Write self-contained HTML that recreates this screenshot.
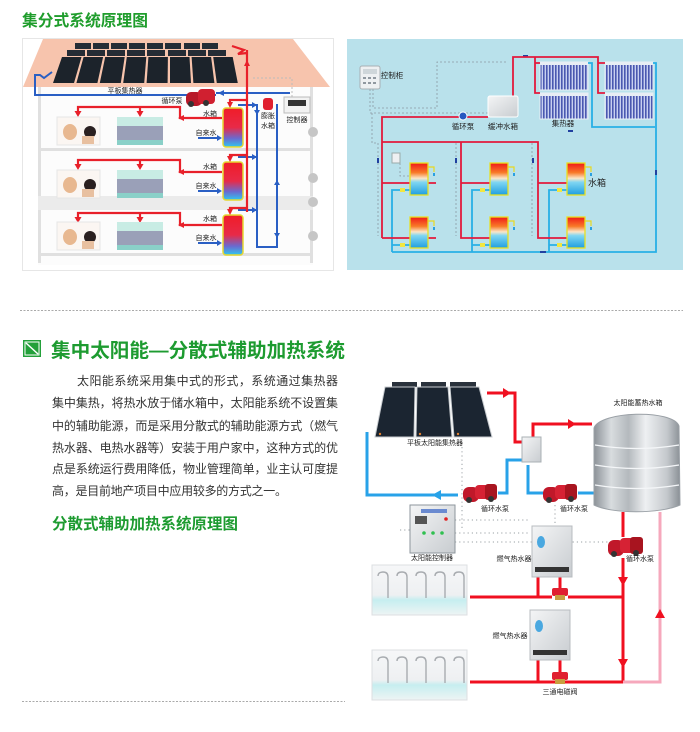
<!DOCTYPE html>
<html><head><meta charset="utf-8">
<style>
html,body{margin:0;padding:0;background:#fff;}
svg{display:block;}
text{font-family:"Liberation Sans","Noto Sans CJK SC",sans-serif;}
</style></head><body>
<svg width="700" height="732" viewBox="0 0 700 732" xmlns="http://www.w3.org/2000/svg">
<defs>
 <linearGradient id="tk1" x1="0" y1="0" x2="0" y2="1">
  <stop offset="0" stop-color="#f01c28"/>
  <stop offset="0.5" stop-color="#e82a48"/>
  <stop offset="0.78" stop-color="#6a6ad0"/>
  <stop offset="1" stop-color="#30c8f0"/>
 </linearGradient>
 <linearGradient id="tk2" x1="0" y1="0" x2="0" y2="1">
  <stop offset="0" stop-color="#f01818"/>
  <stop offset="0.3" stop-color="#f87a28"/>
  <stop offset="0.48" stop-color="#fbe6c8"/>
  <stop offset="0.6" stop-color="#7fd6f2"/>
  <stop offset="1" stop-color="#1e9ee0"/>
 </linearGradient>
 <linearGradient id="steel" x1="0" y1="0" x2="1" y2="0">
  <stop offset="0" stop-color="#8c9298"/>
  <stop offset="0.2" stop-color="#d8dcdf"/>
  <stop offset="0.4" stop-color="#b4b9bd"/>
  <stop offset="0.6" stop-color="#eef0f2"/>
  <stop offset="0.85" stop-color="#c4c8cc"/>
  <stop offset="1" stop-color="#8a9096"/>
 </linearGradient>
 <linearGradient id="box" x1="0" y1="0" x2="1" y2="1">
  <stop offset="0" stop-color="#f4f5f6"/>
  <stop offset="1" stop-color="#c8ccd0"/>
 </linearGradient>
 <linearGradient id="shw" x1="0" y1="0" x2="0" y2="1">
  <stop offset="0" stop-color="#f6f7f8"/>
  <stop offset="0.6" stop-color="#eef0f2"/>
  <stop offset="0.7" stop-color="#c6eef0"/>
  <stop offset="1" stop-color="#eef4f4"/>
 </linearGradient>
 <linearGradient id="coll" x1="0" y1="0" x2="1" y2="0">
  <stop offset="0" stop-color="#5a6ab8"/>
  <stop offset="0.5" stop-color="#8a94d8"/>
  <stop offset="1" stop-color="#4a5aa8"/>
 </linearGradient>
 <pattern id="tubes" width="3" height="10" patternUnits="userSpaceOnUse">
  <rect width="3" height="10" fill="#c8d0f0"/>
  <rect width="1.6" height="10" fill="#4a58b0"/>
 </pattern>
</defs>

<!-- ============ TITLE 1 ============ -->
<text x="22" y="26" font-size="16" font-weight="bold" fill="#1f9d2c" textLength="126" lengthAdjust="spacingAndGlyphs">集分式系统原理图</text>

<!-- ============ TOP-LEFT DIAGRAM ============ -->
<rect x="22.5" y="38.5" width="311" height="232" fill="#fff" stroke="#e6e6e6"/>
<rect x="38" y="87" width="275" height="178" fill="#fcfcfc"/>
<rect x="38" y="87" width="3" height="176" fill="#e0e0e0"/>
<rect x="310" y="87" width="3" height="176" fill="#e0e0e0"/>
<rect x="38" y="148" width="275" height="3" fill="#e0e0e0"/>
<rect x="38" y="196" width="275" height="14" fill="#ebebeb"/>
<rect x="38" y="253" width="275" height="3" fill="#e0e0e0"/>
<!-- roof -->
<polygon points="43,39 293,39 330,87 23,87" fill="#f7c4ad"/>
<!-- panels back rows -->
<g fill="#252c35">
 <rect x="75" y="43" width="16" height="6"/><rect x="93" y="43" width="16" height="6"/><rect x="111" y="43" width="16" height="6"/><rect x="129" y="43" width="16" height="6"/>
 <rect x="147" y="43" width="16" height="6"/><rect x="165" y="43" width="16" height="6"/><rect x="184" y="43" width="16" height="6"/><rect x="202" y="43" width="16" height="6"/>
 <rect x="67" y="50" width="18" height="6"/><rect x="87" y="50" width="18" height="6"/><rect x="107" y="50" width="18" height="6"/><rect x="127" y="50" width="18" height="6"/>
 <rect x="147" y="50" width="18" height="6"/><rect x="168" y="50" width="18" height="6"/><rect x="188" y="50" width="18" height="6"/><rect x="208" y="50" width="18" height="6"/>
</g>
<g fill="#1c232b">
 <polygon points="62,57 81.5,57 74,83 53,83"/>
 <polygon points="83.6,57 103.1,57 97.4,83 76.4,83"/>
 <polygon points="105.2,57 124.7,57 120.8,83 99.8,83"/>
 <polygon points="126.8,57 146.3,57 144.2,83 123.2,83"/>
 <polygon points="148.4,57 167.9,57 167.6,83 146.6,83"/>
 <polygon points="170,57 189.5,57 191,83 170,83"/>
 <polygon points="191.6,57 211.1,57 214.4,83 193.4,83"/>
 <polygon points="213.2,57 232.7,57 237.8,83 216.8,83"/>
</g>
<!-- dashed control line -->
<path d="M292,97 V78 H252" fill="none" stroke="#bbb" stroke-width="1" stroke-dasharray="2,2"/>
<!-- blue pipes -->
<g fill="none" stroke="#2a5fc4" stroke-width="2">
 <path d="M52,72 L44,78 L40,75 L35,75 V95 H216"/>
 <path d="M216,93 H290"/>
 <path d="M277,104 V247 H257 V104"/>
 <path d="M238,105 H257 M238,157 H257 M238,210 H257"/>
 <path d="M238,108 V145 M238,162 V198 M238,215 V252"/>
 <path d="M198,138 H220 M198,191 H220 M198,243 H220"/>
</g>
<g fill="#2a5fc4">
 <polygon points="218,93 224,90 224,96"/>
 <polygon points="257,115 254,110 260,110"/>
 <polygon points="277,180 274,185 280,185"/>
 <polygon points="277,238 274,233 280,233"/>
 <polygon points="257,105 252,102 252,108"/>
 <polygon points="257,157 252,154 252,160"/>
 <polygon points="257,210 252,207 252,213"/>
 <polygon points="222,138 217,135 217,141"/>
 <polygon points="222,191 217,188 217,194"/>
 <polygon points="222,243 217,240 217,246"/>
</g>
<!-- tanks -->
<g stroke="#e6d830" stroke-width="1.5">
 <rect x="223" y="108" width="20" height="39" rx="3" fill="url(#tk1)"/>
 <rect x="223" y="162" width="20" height="38" rx="3" fill="url(#tk1)"/>
 <rect x="223" y="215" width="20" height="40" rx="3" fill="url(#tk1)"/>
</g>
<!-- red pipes -->
<g fill="none" stroke="#e8202a" stroke-width="2.2">
 <path d="M232,46 L244,50 L238,54 L247,53 M247,50 V212"/>
 <path d="M247,100 H230 V106 M247,155 H230 V160 M247,208 H230 V213"/>
 <path d="M222,118 H180 V107 H78 V113 M140,107 V113"/>
 <path d="M222,172 H180 V160 H78 V166 M140,160 V166"/>
 <path d="M222,225 H180 V213 H78 V219 M140,213 V219"/>
</g>
<g fill="#e8202a">
 <polygon points="78,117 74.5,111 81.5,111"/><polygon points="140,117 136.5,111 143.5,111"/>
 <polygon points="78,170 74.5,164 81.5,164"/><polygon points="140,170 136.5,164 143.5,164"/>
 <polygon points="78,223 74.5,217 81.5,217"/><polygon points="140,223 136.5,217 143.5,217"/>
 <polygon points="230,108 227,102 233,102"/><polygon points="230,162 227,156 233,156"/><polygon points="230,215 227,209 233,209"/>
 <polygon points="178,118 184,115 184,121"/><polygon points="178,172 184,169 184,175"/><polygon points="178,225 184,222 184,228"/>
 <polygon points="247,60 244,66 250,66"/>
</g>
<!-- bath / sink images -->
<g>
 <rect x="57" y="117" width="43" height="28" fill="#fbf6f2" stroke="#e6e6e6"/>
 <ellipse cx="70" cy="132" rx="7" ry="8" fill="#e8b890"/><circle cx="90" cy="132" r="6" fill="#2a2020"/><rect x="82" y="136" width="12" height="8" fill="#e8c0a0"/>
 <rect x="117" y="117" width="46" height="28" fill="#9aa0b8"/><rect x="117" y="117" width="46" height="9" fill="#c8ece4"/><rect x="117" y="140" width="46" height="5" fill="#8ad0c8"/>
 <rect x="57" y="170" width="43" height="28" fill="#fbf6f2" stroke="#e6e6e6"/>
 <ellipse cx="70" cy="185" rx="7" ry="8" fill="#e8b890"/><circle cx="90" cy="185" r="6" fill="#2a2020"/><rect x="82" y="189" width="12" height="8" fill="#e8c0a0"/>
 <rect x="117" y="170" width="46" height="28" fill="#9aa0b8"/><rect x="117" y="170" width="46" height="9" fill="#c8ece4"/><rect x="117" y="193" width="46" height="5" fill="#8ad0c8"/>
 <rect x="57" y="222" width="43" height="28" fill="#fbf6f2" stroke="#e6e6e6"/>
 <ellipse cx="70" cy="237" rx="7" ry="8" fill="#e8b890"/><circle cx="90" cy="237" r="6" fill="#2a2020"/><rect x="82" y="241" width="12" height="8" fill="#e8c0a0"/>
 <rect x="117" y="222" width="46" height="28" fill="#9aa0b8"/><rect x="117" y="222" width="46" height="9" fill="#c8ece4"/><rect x="117" y="245" width="46" height="5" fill="#8ad0c8"/>
</g>
<!-- pump -->
<g>
 <rect x="186" y="92" width="16" height="14" rx="5" fill="#b81828"/>
 <rect x="198" y="89" width="17" height="15" rx="4" fill="#d02030"/>
 <circle cx="191" cy="104" r="3" fill="#333"/><circle cx="206" cy="103" r="3" fill="#333"/>
</g>
<!-- expansion tank & controller -->
<rect x="263" y="98" width="10" height="12" rx="3" fill="#e02030"/>
<rect x="284" y="97" width="26" height="16" fill="#f2f2f2" stroke="#bbb"/>
<rect x="288" y="100" width="18" height="6" fill="#333"/>
<!-- gray circles -->
<g fill="#c6c6c6"><circle cx="313" cy="132" r="5"/><circle cx="313" cy="178" r="5"/><circle cx="313" cy="202" r="5"/><circle cx="313" cy="236" r="5"/></g>
<!-- labels -->
<g font-size="7" fill="#222" text-anchor="middle">
 <text x="125" y="93">平板集热器</text>
 <text x="172" y="103">循环泵</text>
 <text x="210" y="116">水箱</text><text x="210" y="169">水箱</text><text x="210" y="221">水箱</text>
 <text x="206" y="135">自来水</text><text x="206" y="188">自来水</text><text x="206" y="240">自来水</text>
 <text x="268" y="118">膨胀</text><text x="268" y="128">水箱</text>
 <text x="297" y="122">控制器</text>
</g>

<!-- ============ TOP-RIGHT DIAGRAM ============ -->
<rect x="347" y="39" width="336" height="231" fill="#b9e1eb"/>
<!-- dashed control lines -->
<g fill="none" stroke="#8a9aa2" stroke-width="0.8" stroke-dasharray="2,2">
 <path d="M373,89 V108 H437 V62 H508"/>
 <path d="M370,89 V113 H505"/>
 <path d="M372,113 V143 H378 V236"/>
 <path d="M456,143 V236 M532,143 V236"/>
 <path d="M400,163 V176 H410"/>
</g>
<!-- controller -->
<rect x="360" y="66" width="20" height="23" rx="2" fill="#eef0f2" stroke="#a8b0b4"/>
<rect x="363" y="69" width="14" height="5" fill="#cfd6da"/>
<g fill="#9098a0"><rect x="363" y="77" width="3" height="2"/><rect x="368" y="77" width="3" height="2"/><rect x="373" y="77" width="3" height="2"/><rect x="363" y="82" width="3" height="2"/><rect x="368" y="82" width="3" height="2"/><rect x="373" y="82" width="3" height="2"/></g>
<!-- collectors -->
<g>
 <rect x="540" y="62" width="48" height="28" fill="url(#tubes)" stroke="#e8eef4"/>
 <rect x="540" y="93" width="48" height="26" fill="url(#tubes)" stroke="#e8eef4"/>
 <rect x="605" y="62" width="48" height="28" fill="url(#tubes)" stroke="#e8eef4"/>
 <rect x="605" y="93" width="48" height="26" fill="url(#tubes)" stroke="#e8eef4"/>
 <rect x="540" y="62" width="48" height="3" fill="#e8eef4"/><rect x="540" y="93" width="48" height="3" fill="#e8eef4"/>
 <rect x="605" y="62" width="48" height="3" fill="#e8eef4"/><rect x="605" y="93" width="48" height="3" fill="#e8eef4"/>
</g>
<!-- blue pipes -->
<g fill="none" stroke="#28b0e6" stroke-width="1.8">
 <path d="M588,63 H592 V127 H655 M653,63 H656 V252 H392"/>
 <path d="M392,252 V190 H410 M392,245 H410"/>
 <path d="M472,252 V190 H490 M472,245 H490"/>
 <path d="M549,252 V190 H567 M549,245 H567"/>
</g>
<g fill="#2040a0"><rect x="540" y="251" width="6" height="2"/><rect x="568" y="130" width="5" height="2"/><rect x="655" y="170" width="2" height="5"/><rect x="377" y="158" width="2" height="5"/><rect x="455" y="158" width="2" height="5"/><rect x="532" y="158" width="2" height="5"/><rect x="523" y="55" width="5" height="2"/></g>
<!-- red pipes -->
<g fill="none" stroke="#e21a3c" stroke-width="1.8">
 <path d="M382,238 V117 H488"/>
 <path d="M513,96 V57 H598 V93 H605 M598,63 H605 M535,57 V93 H540 M535,63 H540"/>
 <path d="M382,142 H538 V238 H567 M461,142 V238 H490 M382,238 H410"/>
 <path d="M382,183 H410 M461,183 H490 M538,183 H567"/>
 <path d="M428,183 H436 M428,238 H436"/>
</g>
<!-- pump & buffer tank -->
<circle cx="463" cy="116" r="4" fill="#2858c0" stroke="#fff" stroke-width="1"/>
<rect x="488" y="96" width="30" height="21" rx="2" fill="url(#box)" stroke="#fff"/>
<!-- tanks -->
<g stroke="#e8e020" stroke-width="1.3" fill="url(#tk2)">
 <rect x="410" y="163" width="18" height="32"/><rect x="490" y="163" width="18" height="32"/><rect x="567" y="163" width="18" height="32"/>
 <rect x="410" y="217" width="18" height="31"/><rect x="490" y="217" width="18" height="31"/><rect x="567" y="217" width="18" height="31"/>
</g>
<g fill="none" stroke="#e8d820" stroke-width="1.2">
 <path d="M428,167 H434 V172 M508,167 H514 V172 M585,167 H591 V172 M428,221 H434 V226 M508,221 H514 V226 M585,221 H591 V226"/>
</g>
<g fill="#2aa0e0"><rect x="433" y="173" width="2" height="3"/><rect x="513" y="173" width="2" height="3"/><rect x="590" y="173" width="2" height="3"/><rect x="433" y="227" width="2" height="3"/><rect x="513" y="227" width="2" height="3"/><rect x="590" y="227" width="2" height="3"/></g>
<g fill="#f2e640"><rect x="400" y="188" width="5" height="4"/><rect x="480" y="188" width="5" height="4"/><rect x="557" y="188" width="5" height="4"/><rect x="400" y="243" width="5" height="4"/><rect x="480" y="243" width="5" height="4"/><rect x="557" y="243" width="5" height="4"/></g>
<rect x="392" y="153" width="8" height="10" fill="#eef0f2" stroke="#9aa"/>
<g font-size="7.5" fill="#222" text-anchor="middle">
 <text x="392" y="78">控制柜</text>
 <text x="463" y="129">循环泵</text>
 <text x="503" y="129">缓冲水箱</text>
 <text x="563" y="126">集热器</text>
 <text x="597" y="186" font-size="9">水箱</text>
</g>

<!-- ============ SEPARATOR ============ -->
<line x1="20" y1="310.5" x2="683" y2="310.5" stroke="#aaa" stroke-width="1" stroke-dasharray="2,1.5"/>

<!-- ============ SECTION 2 ============ -->
<rect x="23" y="340" width="18" height="17" fill="#23a03a"/>
<rect x="25" y="342" width="14" height="13" fill="none" stroke="#fff" stroke-width="1"/>
<line x1="26" y1="343" x2="38" y2="354" stroke="#fff" stroke-width="1.5"/>
<text x="51" y="357" font-size="19.5" font-weight="bold" fill="#1d9b30" textLength="294" lengthAdjust="spacingAndGlyphs">集中太阳能—分散式辅助加热系统</text>

<g font-size="12" fill="#333">
 <text x="77" y="385" textLength="261" lengthAdjust="spacing">太阳能系统采用集中式的形式，系统通过集热器</text>
 <text x="52" y="407" textLength="286" lengthAdjust="spacing">集中集热，将热水放于储水箱中，太阳能系统不设置集</text>
 <text x="52" y="430" textLength="286" lengthAdjust="spacing">中的辅助能源，而是采用分散式的辅助能源方式（燃气</text>
 <text x="52" y="452" textLength="286" lengthAdjust="spacing">热水器、电热水器等）安装于用户家中，这种方式的优</text>
 <text x="52" y="473" textLength="286" lengthAdjust="spacing">点是系统运行费用降低，物业管理简单，业主认可度提</text>
 <text x="52" y="495" textLength="235" lengthAdjust="spacing">高，是目前地产项目中应用较多的方式之一。</text>
</g>
<text x="52" y="529" font-size="15.5" font-weight="bold" fill="#1d9b30" textLength="186" lengthAdjust="spacingAndGlyphs">分散式辅助加热系统原理图</text>

<line x1="22" y1="701.5" x2="345" y2="701.5" stroke="#aaa" stroke-width="1" stroke-dasharray="2,1.5"/>

<!-- ============ BOTTOM-RIGHT DIAGRAM ============ -->
<!-- dotted control lines -->
<g fill="none" stroke="#9aa0a4" stroke-width="1" stroke-dasharray="1.2,3">
 <path d="M462,447 V528"/>
 <path d="M455,520 H530"/>
 <path d="M455,533 H528"/>
 <path d="M455,542 H608"/>
 <path d="M555,505 V530"/>
 <path d="M400,530 H410"/>
</g>
<!-- panels -->
<g fill="#2a323c"><rect x="392" y="382" width="25" height="5"/><rect x="421" y="382" width="25" height="5"/><rect x="450" y="382" width="26" height="5"/></g>
<g fill="#1b2531" stroke="#c8ccd0" stroke-width="1">
 <polygon points="385,387 415,387 414,437 375,437"/>
 <polygon points="417,387 448,387 452,437 416,437"/>
 <polygon points="450,387 479,387 492,437 454,437"/>
</g>
<g fill="#e08030"><circle cx="380" cy="434" r="1.2"/><circle cx="420" cy="434" r="1.2"/><circle cx="458" cy="434" r="1.2"/></g>
<!-- red top pipes -->
<g fill="none" stroke="#f01020" stroke-width="3">
 <path d="M487,393 H515 V442 H522"/>
 <path d="M533,437 V424 H592"/>
 <path d="M623,512 V537 M623,558 V682 H470 M623,597 H568 M552,597 H470"/>
 <path d="M538,577 V597 M560,577 V588 M538,660 V682 M560,660 V672"/>
</g>
<polygon points="511,393 503,388 503,398" fill="#f01020"/>
<polygon points="576,424 568,419 568,429" fill="#f01020"/>
<polygon points="623,586 618,577 628,577" fill="#f01020"/>
<polygon points="623,668 618,659 628,659" fill="#f01020"/>
<!-- pink return -->
<path d="M660,512 V682 H623" fill="none" stroke="#f6a8bc" stroke-width="3"/>
<polygon points="660,609 655,618 665,618" fill="#f01020"/>
<!-- blue -->
<g fill="none" stroke="#28a2e8" stroke-width="3">
 <path d="M367,432 V495 H458"/>
 <path d="M498,493 H507 V460 H523"/>
 <path d="M528,465 V493 H543"/>
 <path d="M578,493 H594"/>
</g>
<polygon points="432,495 441,490 441,500" fill="#28a2e8"/>
<!-- heat exchanger -->
<rect x="522" y="437" width="19" height="25" fill="url(#box)" stroke="#aab0b4"/>
<!-- tank -->
<path d="M594,428 C600,411 673,409 679,426 L680,505 C660,514 612,514 594,505 Z" fill="url(#steel)" stroke="#9aa0a6"/>
<g stroke="#f4f6f8" stroke-width="1.2" fill="none">
 <path d="M595,445 Q637,452 679,445"/><path d="M595,465 Q637,472 679,465"/><path d="M595,485 Q637,492 679,485"/>
</g>
<!-- pumps -->
<g transform="translate(463,483)">
 <rect x="0" y="4" width="16" height="15" rx="6" fill="#c0182a"/>
 <rect x="12" y="2" width="14" height="14" rx="4" fill="#d62234"/>
 <rect x="22" y="1" width="12" height="16" rx="3" fill="#a8141f"/>
 <circle cx="6" cy="17" r="3" fill="#333"/><circle cx="28" cy="16" r="3" fill="#333"/>
</g>
<g transform="translate(543,483)">
 <rect x="0" y="4" width="16" height="15" rx="6" fill="#c0182a"/>
 <rect x="12" y="2" width="14" height="14" rx="4" fill="#d62234"/>
 <rect x="22" y="1" width="12" height="16" rx="3" fill="#a8141f"/>
 <circle cx="6" cy="17" r="3" fill="#333"/><circle cx="28" cy="16" r="3" fill="#333"/>
</g>
<g transform="translate(608,536)">
 <rect x="0" y="4" width="16" height="16" rx="6" fill="#c0182a"/>
 <rect x="12" y="2" width="14" height="15" rx="4" fill="#d62234"/>
 <rect x="22" y="1" width="13" height="17" rx="3" fill="#a8141f"/>
 <circle cx="6" cy="18" r="3" fill="#333"/><circle cx="28" cy="17" r="3" fill="#333"/>
</g>
<!-- controller box -->
<rect x="410" y="505" width="45" height="48" fill="url(#box)" stroke="#8e969c"/>
<rect x="421" y="509" width="26" height="4" fill="#6a8ad0"/>
<rect x="415" y="516" width="12" height="8" fill="#555"/>
<g fill="#30c050"><circle cx="424" cy="533" r="1.8"/><circle cx="433" cy="533" r="1.8"/><circle cx="442" cy="533" r="1.8"/></g>
<circle cx="446" cy="519" r="1.8" fill="#e02020"/>
<!-- gas heaters -->
<rect x="532" y="526" width="40" height="51" fill="url(#box)" stroke="#b8bcc0"/>
<ellipse cx="541" cy="542" rx="4" ry="6" fill="#4aa8e0"/>
<rect x="535" y="567" width="34" height="5" fill="#333"/>
<rect x="530" y="610" width="40" height="50" fill="url(#box)" stroke="#b8bcc0"/>
<ellipse cx="539" cy="626" rx="4" ry="6" fill="#4aa8e0"/>
<rect x="533" y="650" width="34" height="5" fill="#333"/>
<!-- valves -->
<rect x="552" y="588" width="16" height="8" rx="2" fill="#e02030"/><rect x="555" y="595" width="10" height="5" fill="#c8a040"/>
<rect x="552" y="672" width="16" height="8" rx="2" fill="#e02030"/><rect x="555" y="679" width="10" height="5" fill="#c8a040"/>
<!-- shower boxes -->
<g>
 <rect x="372" y="565" width="95" height="50" fill="url(#shw)" stroke="#dcdfe2"/>
 <rect x="372" y="650" width="95" height="50" fill="url(#shw)" stroke="#dcdfe2"/>
</g>
<g fill="none" stroke="#a8acb0" stroke-width="1.4">
 <path d="M388,598 V577 Q388,572 383,572 Q378,572 378,576"/>
 <path d="M407,598 V577 Q407,572 402,572 Q397,572 397,576"/>
 <path d="M426,598 V577 Q426,572 421,572 Q416,572 416,576"/>
 <path d="M445,598 V577 Q445,572 440,572 Q435,572 435,576"/>
 <path d="M464,598 V577 Q464,572 459,572 Q454,572 454,576"/>
 <path d="M388,683 V662 Q388,657 383,657 Q378,657 378,661"/>
 <path d="M407,683 V662 Q407,657 402,657 Q397,657 397,661"/>
 <path d="M426,683 V662 Q426,657 421,657 Q416,657 416,661"/>
 <path d="M445,683 V662 Q445,657 440,657 Q435,657 435,661"/>
 <path d="M464,683 V662 Q464,657 459,657 Q454,657 454,661"/>
</g>
<!-- labels -->
<g font-size="7" fill="#222" text-anchor="middle">
 <text x="435" y="445">平板太阳能集热器</text>
 <text x="638" y="405">太阳能蓄热水箱</text>
 <text x="495" y="511">循环水泵</text>
 <text x="574" y="511">循环水泵</text>
 <text x="432" y="560">太阳能控制器</text>
 <text x="514" y="561">燃气热水器</text>
 <text x="640" y="561">循环水泵</text>
 <text x="510" y="638">燃气热水器</text>
 <text x="560" y="694">三通电磁阀</text>
</g>
</svg>
</body></html>
